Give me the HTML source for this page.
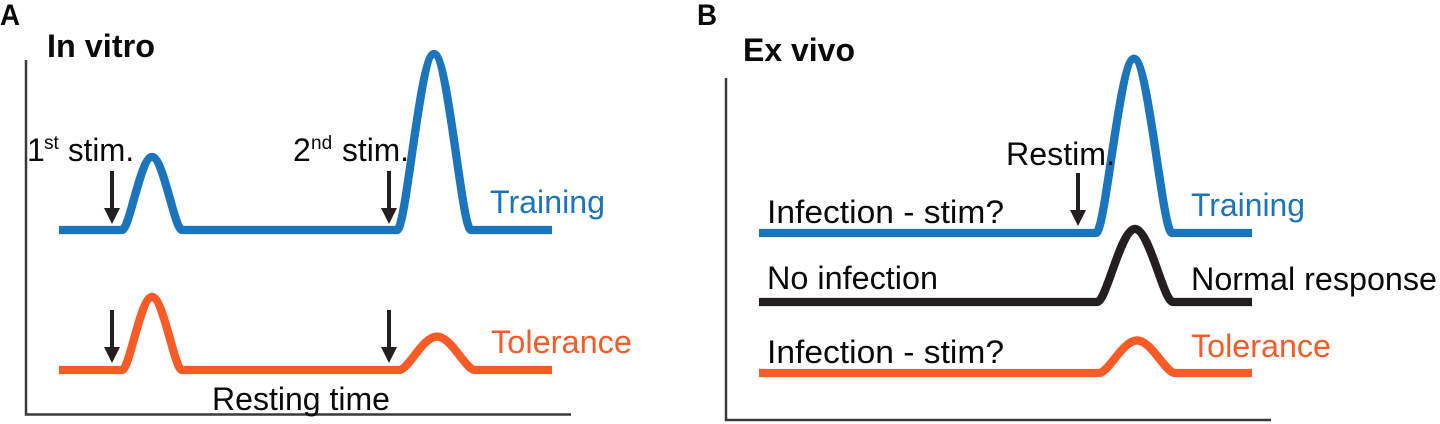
<!DOCTYPE html>
<html lang="en">
<head>
<meta charset="utf-8">
<title>In vitro and ex vivo training and tolerance</title>
<style>
html,body{margin:0;padding:0;background:#fff;width:1440px;height:424px;overflow:hidden}
svg{display:block}
text{font-family:"Liberation Sans",Arial,sans-serif;fill:#0a0a0a}
</style>
</head>
<body>
<svg id="fig" width="1440" height="424" viewBox="0 0 1440 424" xmlns="http://www.w3.org/2000/svg">
  <g id="marks"></g>

  <text x="0" y="25" font-size="30" font-weight="bold" textLength="20" lengthAdjust="spacingAndGlyphs">A</text>
  <text x="47" y="57" font-size="32" font-weight="bold" textLength="108" lengthAdjust="spacingAndGlyphs">In vitro</text>
  <text x="27" y="161" font-size="32">1</text>
  <text x="44" y="149" font-size="19">st</text>
  <text x="68" y="161" font-size="32" textLength="66" lengthAdjust="spacingAndGlyphs">stim.</text>
  <text x="293" y="161" font-size="32">2</text>
  <text x="311" y="149" font-size="19">nd</text>
  <text x="342" y="161" font-size="32" textLength="67" lengthAdjust="spacingAndGlyphs">stim.</text>
  <text x="490" y="213" font-size="32" textLength="115" lengthAdjust="spacingAndGlyphs" style="fill:#1b75bc">Training</text>
  <text x="491" y="353" font-size="32" textLength="141" lengthAdjust="spacingAndGlyphs" style="fill:#f95b26">Tolerance</text>
  <text x="212" y="410" font-size="32" textLength="178" lengthAdjust="spacingAndGlyphs">Resting time</text>

  <text x="697" y="25" font-size="30" font-weight="bold" textLength="20" lengthAdjust="spacingAndGlyphs">B</text>
  <text x="743" y="61" font-size="32" font-weight="bold" textLength="112" lengthAdjust="spacingAndGlyphs">Ex vivo</text>
  <text x="1006" y="165" font-size="32" textLength="109" lengthAdjust="spacingAndGlyphs">Restim.</text>
  <text x="767" y="223" font-size="32" textLength="237" lengthAdjust="spacingAndGlyphs">Infection - stim?</text>
  <text x="767" y="289" font-size="32" textLength="171" lengthAdjust="spacingAndGlyphs">No infection</text>
  <text x="767" y="363" font-size="32" textLength="237" lengthAdjust="spacingAndGlyphs">Infection - stim?</text>
  <text x="1191" y="216" font-size="32" textLength="114" lengthAdjust="spacingAndGlyphs" style="fill:#1b75bc">Training</text>
  <text x="1191" y="290" font-size="32" textLength="246" lengthAdjust="spacingAndGlyphs">Normal response</text>
  <text x="1191" y="357" font-size="32" textLength="140" lengthAdjust="spacingAndGlyphs" style="fill:#f95b26">Tolerance</text>
</svg>
<script>
// Panel A (in vitro): peak heights on a 0-100 response scale; times and widths in time units from the y axis
const trainingTimesA = [126, 408];
const trainingWidthsA = [30, 37];
const trainingPeaksA = [41.5, 100];
const toleranceTimesA = [126, 411];
const toleranceWidthsA = [30, 38];
const tolerancePeaksA = [41.5, 19];
const stimTimesA = [86, 363];
// Panel B (ex vivo)
const trainingTimesB = [408];
const trainingWidthsB = [38];
const trainingPeaksB = [99];
const normalTimesB = [409];
const normalWidthsB = [38];
const normalPeaksB = [41.5];
const toleranceTimesB = [411];
const toleranceWidthsB = [38];
const tolerancePeaksB = [18.5];
const stimTimesB = [352];

const NS = 'http://www.w3.org/2000/svg';
const root = document.getElementById('marks');
const BLUE = '#1b75bc', ORANGE = '#f95b26', BLACK = '#231f20';

function xScale(origin, t) { return origin + t; }
function yScale(baseline, v) { return baseline - v * 1.76; }

function curvePath(origin, baseline, times, widths, peaks, start, end) {
  let d = 'M' + xScale(origin, start) + ' ' + baseline;
  times.forEach(function (t, i) {
    const c = xScale(origin, t), hw = widths[i], top = yScale(baseline, peaks[i]);
    d += ' L' + (c - hw) + ' ' + baseline;
    d += ' C' + (c - hw * 0.75) + ' ' + baseline + ' ' + (c - hw * 0.38) + ' ' + top + ' ' + c + ' ' + top;
    d += ' C' + (c + hw * 0.38) + ' ' + top + ' ' + (c + hw * 0.75) + ' ' + baseline + ' ' + (c + hw) + ' ' + baseline;
  });
  d += ' L' + xScale(origin, end) + ' ' + baseline;
  return d;
}

function drawCurve(name, origin, baseline, times, widths, peaks, color) {
  const p = document.createElementNS(NS, 'path');
  p.setAttribute('d', curvePath(origin, baseline, times, widths, peaks, 33, 526));
  p.setAttribute('fill', 'none');
  p.setAttribute('stroke', color);
  p.setAttribute('stroke-width', '8.3');
  p.setAttribute('stroke-linejoin', 'round');
  
  
  root.appendChild(p);
}

function drawAxes(name, origin, top, bottom, right) {
  const p = document.createElementNS(NS, 'path');
  p.setAttribute('d', 'M' + origin + ' ' + top + ' V' + bottom + ' H' + right);
  p.setAttribute('fill', 'none');
  p.setAttribute('stroke', '#3a3a3c');
  p.setAttribute('stroke-width', '2.5');
  
  
  root.appendChild(p);
}

function drawArrow(name, origin, t, tipY) {
  const x = xScale(origin, t);
  const p = document.createElementNS(NS, 'path');
  p.setAttribute('d', 'M' + (x - 2) + ' ' + (tipY - 53) + ' h4 v37 h6 l-8 16 l-8 -16 h6 z');
  p.setAttribute('fill', BLACK);
  
  
  root.appendChild(p);
}

const originA = 26, originB = 726;
drawAxes('panel-a-axes', originA, 60, 414.5, 571);
drawAxes('panel-b-axes', originB, 78, 420, 1271);

drawCurve('training-curve-a', originA, 230, trainingTimesA, trainingWidthsA, trainingPeaksA, BLUE);
drawCurve('tolerance-curve-a', originA, 370, toleranceTimesA, toleranceWidthsA, tolerancePeaksA, ORANGE);
drawCurve('training-curve-b', originB, 233, trainingTimesB, trainingWidthsB, trainingPeaksB, BLUE);
drawCurve('normal-curve-b', originB, 302, normalTimesB, normalWidthsB, normalPeaksB, BLACK);
drawCurve('tolerance-curve-b', originB, 373, toleranceTimesB, toleranceWidthsB, tolerancePeaksB, ORANGE);

stimTimesA.forEach(function (t, i) {
  drawArrow('training-stim-arrow-' + (i + 1), originA, t, 224);
  drawArrow('tolerance-stim-arrow-' + (i + 1), originA, t, 363);
});
stimTimesB.forEach(function (t, i) {
  drawArrow('restim-arrow-' + (i + 1), originB, t, 226);
});
</script>
</body>
</html>
